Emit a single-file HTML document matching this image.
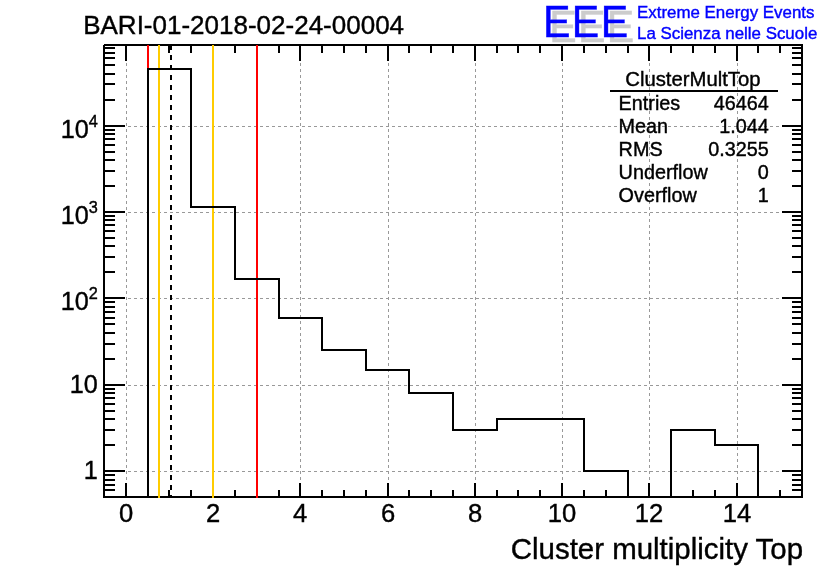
<!DOCTYPE html><html><head><meta charset="utf-8"><style>html,body{margin:0;padding:0;background:#fff;overflow:hidden}svg{display:block;will-change:transform}</style></head><body><svg width="836" height="572" viewBox="0 0 836 572">
<rect width="836" height="572" fill="#fff"/>
<g stroke="#999999" stroke-width="1" stroke-dasharray="3 3" shape-rendering="crispEdges"><line x1="126.5" y1="498" x2="126.5" y2="46"/><line x1="213.5" y1="498" x2="213.5" y2="46"/><line x1="300.5" y1="498" x2="300.5" y2="46"/><line x1="388.5" y1="498" x2="388.5" y2="46"/><line x1="475.5" y1="498" x2="475.5" y2="46"/><line x1="562.5" y1="498" x2="562.5" y2="46"/><line x1="649.5" y1="498" x2="649.5" y2="46"/><line x1="737.5" y1="498" x2="737.5" y2="46"/><line x1="104" y1="471.5" x2="802" y2="471.5"/><line x1="104" y1="385.5" x2="802" y2="385.5"/><line x1="104" y1="298.5" x2="802" y2="298.5"/><line x1="104" y1="212.5" x2="802" y2="212.5"/><line x1="104" y1="126.5" x2="802" y2="126.5"/></g>
<path d="M126 497V483M126 45V61M148 497V490M148 45V53M169 497V490M169 45V53M191 497V490M191 45V53M213 497V483M213 45V61M235 497V490M235 45V53M257 497V490M257 45V53M279 497V490M279 45V53M300 497V483M300 45V61M322 497V490M322 45V53M344 497V490M344 45V53M366 497V490M366 45V53M388 497V483M388 45V61M409 497V490M409 45V53M431 497V490M431 45V53M453 497V490M453 45V53M475 497V483M475 45V61M497 497V490M497 45V53M518 497V490M518 45V53M540 497V490M540 45V53M562 497V483M562 45V61M584 497V490M584 45V53M606 497V490M606 45V53M628 497V490M628 45V53M649 497V483M649 45V61M671 497V490M671 45V53M693 497V490M693 45V53M715 497V490M715 45V53M737 497V483M737 45V61M758 497V490M758 45V53M780 497V490M780 45V53M104 490H115M802 490H792M104 485H115M802 485H792M104 480H115M802 480H792M104 475H115M802 475H792M104 471H125M802 471H782M104 445H115M802 445H792M104 430H115M802 430H792M104 419H115M802 419H792M104 411H115M802 411H792M104 404H115M802 404H792M104 398H115M802 398H792M104 393H115M802 393H792M104 389H115M802 389H792M104 385H125M802 385H782M104 359H115M802 359H792M104 344H115M802 344H792M104 333H115M802 333H792M104 324H115M802 324H792M104 318H115M802 318H792M104 312H115M802 312H792M104 307H115M802 307H792M104 302H115M802 302H792M104 298H125M802 298H782M104 272H115M802 272H792M104 257H115M802 257H792M104 246H115M802 246H792M104 238H115M802 238H792M104 231H115M802 231H792M104 225H115M802 225H792M104 220H115M802 220H792M104 216H115M802 216H792M104 212H125M802 212H782M104 186H115M802 186H792M104 171H115M802 171H792M104 160H115M802 160H792M104 152H115M802 152H792M104 145H115M802 145H792M104 139H115M802 139H792M104 134H115M802 134H792M104 130H115M802 130H792M104 126H125M802 126H782M104 100H115M802 100H792M104 84H115M802 84H792M104 74H115M802 74H792M104 65H115M802 65H792M104 58H115M802 58H792M104 53H115M802 53H792M104 48H115M802 48H792" stroke="#000" stroke-width="2" fill="none" shape-rendering="crispEdges"/>
<path d="M104 45H802V497H104Z" fill="none" stroke="#000" stroke-width="2" shape-rendering="crispEdges"/>
<rect x="103" y="44" width="1" height="1" fill="#fff"/>
<g shape-rendering="crispEdges">
<rect x="147" y="45" width="2" height="453" fill="#ff0000"/>
<rect x="256" y="45" width="2" height="453" fill="#ff0000"/>
<rect x="158" y="45" width="2" height="453" fill="#ffcc00"/>
<rect x="212" y="45" width="2" height="453" fill="#ffcc00"/>
<line x1="171" y1="45" x2="171" y2="498" stroke="#000" stroke-width="2" stroke-dasharray="5 5"/>
</g>
<path d="M148 498V69H191V207H235V279H279V318H322V350H366V370H409V393H453V430H497V419H540V419H584V471H628V497H671V430H715V445H758V498" fill="none" stroke="#000" stroke-width="2" stroke-linejoin="miter" shape-rendering="crispEdges"/>
<g font-family="'Liberation Sans', Arial, Helvetica, sans-serif" stroke-width="0.4" style="paint-order:stroke">
<text x="83.2" y="34.2" font-size="26.0" stroke="#000">BARI-01-2018-02-24-00004</text>
<text transform="translate(97.8 479.3) scale(1 1.03)" font-size="25.2" text-anchor="end" stroke="#000">1</text>
<text transform="translate(97.8 393.3) scale(1 1.03)" font-size="25.2" text-anchor="end" stroke="#000">10</text>
<text transform="translate(97.8 309.7) scale(1 1.03)" font-size="25.2" text-anchor="end" stroke="#000">10<tspan font-size="16.3" dy="-10.5">2</tspan></text>
<text transform="translate(97.8 223.7) scale(1 1.03)" font-size="25.2" text-anchor="end" stroke="#000">10<tspan font-size="16.3" dy="-10.5">3</tspan></text>
<text transform="translate(97.8 137.7) scale(1 1.03)" font-size="25.2" text-anchor="end" stroke="#000">10<tspan font-size="16.3" dy="-10.5">4</tspan></text>
<text transform="translate(126 521.9) scale(1 1.03)" font-size="25.6" text-anchor="middle" stroke="#000">0</text>
<text transform="translate(213 521.9) scale(1 1.03)" font-size="25.6" text-anchor="middle" stroke="#000">2</text>
<text transform="translate(300 521.9) scale(1 1.03)" font-size="25.6" text-anchor="middle" stroke="#000">4</text>
<text transform="translate(388 521.9) scale(1 1.03)" font-size="25.6" text-anchor="middle" stroke="#000">6</text>
<text transform="translate(475 521.9) scale(1 1.03)" font-size="25.6" text-anchor="middle" stroke="#000">8</text>
<text transform="translate(562 521.9) scale(1 1.03)" font-size="25.6" text-anchor="middle" stroke="#000">10</text>
<text transform="translate(649 521.9) scale(1 1.03)" font-size="25.6" text-anchor="middle" stroke="#000">12</text>
<text transform="translate(737 521.9) scale(1 1.03)" font-size="25.6" text-anchor="middle" stroke="#000">14</text>
<text transform="translate(803 558.7) scale(1 1.01)" font-size="29.45" text-anchor="end" stroke="#000">Cluster multiplicity Top</text>
<text transform="translate(692.9 86.1) scale(1 1.03)" font-size="20.3" text-anchor="middle" stroke="#000">ClusterMultTop</text>
<rect x="610" y="90" width="168" height="2" fill="#000"/>
<text transform="translate(618.6 109.6) scale(1 1.05)" font-size="19.8" stroke="#000">Entries</text>
<text transform="translate(768.8 109.6) scale(1 1.05)" font-size="19.8" text-anchor="end" stroke="#000">46464</text>
<text transform="translate(618.6 132.7) scale(1 1.05)" font-size="19.8" stroke="#000">Mean</text>
<text transform="translate(768.8 132.7) scale(1 1.05)" font-size="19.8" text-anchor="end" stroke="#000">1.044</text>
<text transform="translate(618.6 155.8) scale(1 1.05)" font-size="19.8" stroke="#000">RMS</text>
<text transform="translate(768.8 155.8) scale(1 1.05)" font-size="19.8" text-anchor="end" stroke="#000">0.3255</text>
<text transform="translate(618.6 178.9) scale(1 1.05)" font-size="19.8" stroke="#000">Underflow</text>
<text transform="translate(768.8 178.9) scale(1 1.05)" font-size="19.8" text-anchor="end" stroke="#000">0</text>
<text transform="translate(618.6 202.0) scale(1 1.05)" font-size="19.8" stroke="#000">Overflow</text>
<text transform="translate(768.8 202.0) scale(1 1.05)" font-size="19.8" text-anchor="end" stroke="#000">1</text>
<text transform="translate(549.2 41.8) scale(1 1.08)" font-size="41.2" fill="#cccccc" stroke="#cccccc" letter-spacing="1.35">EEE</text>
<text transform="translate(543.0 36.85) scale(1 1.08)" font-size="41.2" fill="#0000ff" stroke="#0000ff" letter-spacing="1.35">EEE</text>
<text x="637" y="17.6" font-size="16.9" fill="#0000ff" stroke="#0000ff">Extreme Energy Events</text>
<text x="637" y="38.9" font-size="16.9" fill="#0000ff" stroke="#0000ff">La Scienza nelle Scuole</text>
</g>
</svg></body></html>
